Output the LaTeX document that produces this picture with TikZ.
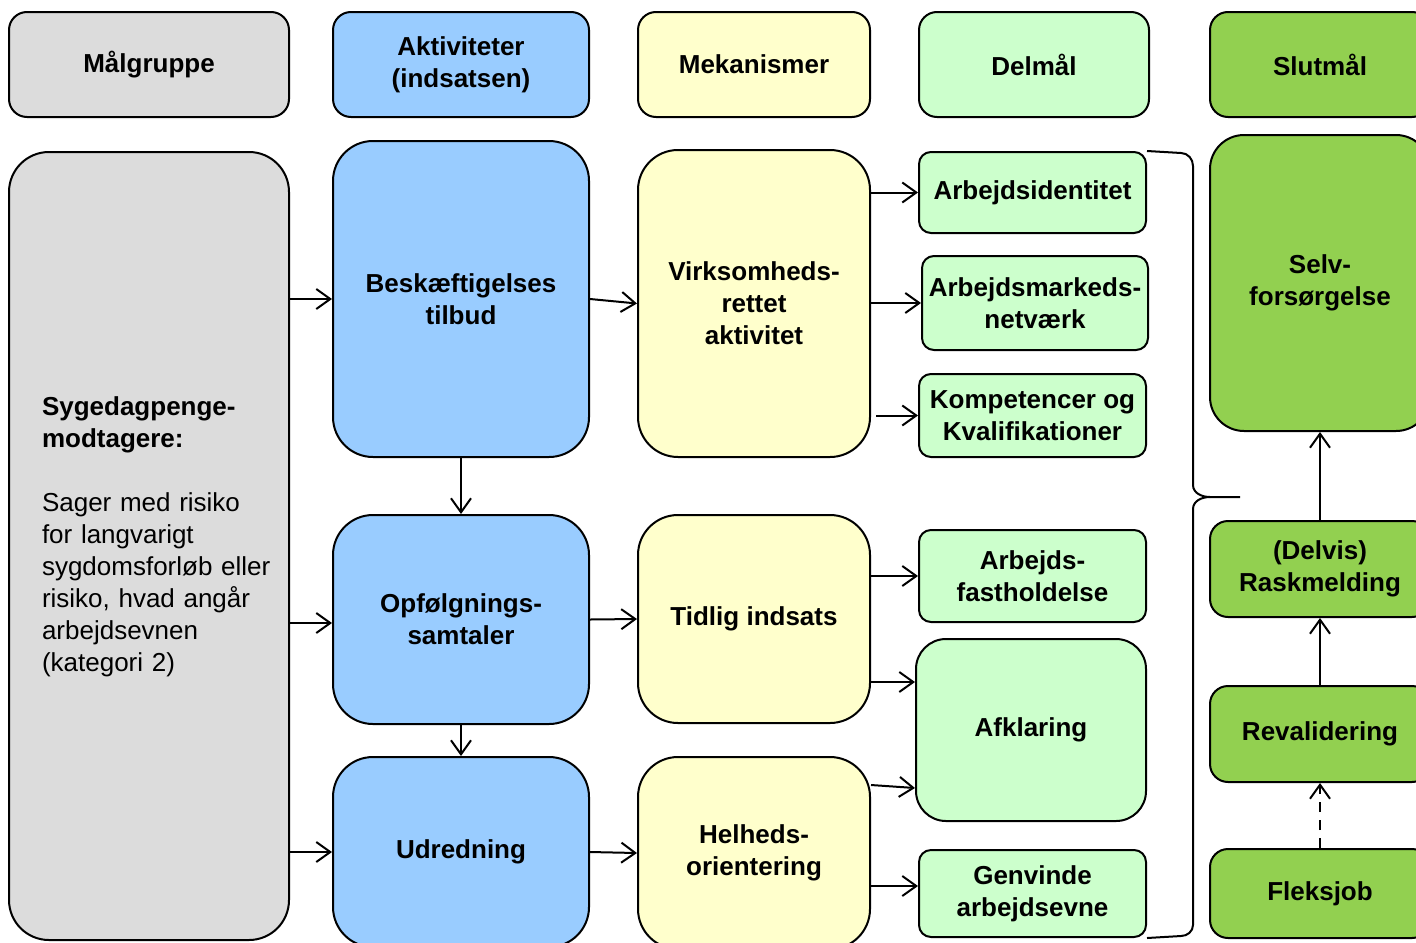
\documentclass[tikz,border=0pt]{standalone}
\usepackage{fontspec}
\setmainfont{Liberation Sans}
\usetikzlibrary{arrows.meta,positioning}
\definecolor{maalgrey}{HTML}{DCDCDC}
\definecolor{aktblue}{HTML}{99CCFF}
\definecolor{mekyellow}{HTML}{FFFFCC}
\definecolor{delgreen}{HTML}{CCFFCC}
\definecolor{slutgreen}{HTML}{92D050}
\tikzset{%
	base/.style     = {draw, rectangle, line width=1pt, inner sep=2pt, align=center, font=\fontsize{13}{16}\selectfont\bfseries},
	head/.style     = {base, rounded corners=9pt, minimum height=52.5pt},
	target/.style   = {base, fill=maalgrey},
	activity/.style = {base, fill=aktblue, rounded corners=20pt, minimum width=128pt},
	mechanism/.style= {base, fill=mekyellow, rounded corners=20pt, minimum width=116pt},
	subgoal/.style  = {base, fill=delgreen, rounded corners=6pt},
	goal/.style     = {base, fill=slutgreen, minimum width=110pt},
	arr/.style      = {line width=1pt, -{Straight Barb[length=7pt,width=10pt,line width=1pt]}},
}
\begin{document}
\begin{tikzpicture}[x=0.5pt,y=-0.5pt]
	\useasboundingbox (0,0) rectangle (1416,942);
	\clip (0,0) rectangle (1416,942);
	\fill[white] (0,0) rectangle (1416,942);
	
	% header row
	\node[head, target, minimum width=140pt] (hmaal) at (149,64.5) {Målgruppe};
	\node[head, fill=aktblue, minimum width=128pt] (hakt) at (461,64.5) {Aktiviteter\\(indsatsen)};
	\node[head, fill=mekyellow, minimum width=116pt] (hmek) at (754,64.5) {Mekanismer};
	\node[head, fill=delgreen, minimum width=115pt] (hdel) at (1034,64.5) {Delmål};
	\node[head, fill=slutgreen, minimum width=110pt] (hslut) at (1320,64.5) {Slutmål};
	
	% target group
	\node[target, rounded corners=20pt, minimum width=140pt, minimum height=394pt, text width=107pt, align=left] (syg) at (149,546)
		{Sygedagpenge-\\modtagere:\\[16pt]\mdseries Sager med risiko\\\mdseries for langvarigt\\\mdseries sygdomsforløb~eller\\\mdseries risiko,~hvad~angår\\\mdseries arbejdsevnen\\\mdseries (kategori 2)\\[-4pt]\mbox{}};
	
	% activities
	\node[activity, minimum height=158pt] (besk) at (461,299) {Beskæftigelses\\tilbud};
	\node[activity, minimum height=104.5pt] (opf) at (461,619.5) {Opfølgnings-\\samtaler};
	\node[activity, minimum height=95pt] (udr) at (461,852) {Udredning};
	
	% mechanisms
	\node[mechanism, minimum height=153.5pt] (virk) at (754,303.5) {Virksomheds-\\rettet\\aktivitet};
	\node[mechanism, minimum height=104pt] (tidl) at (754,619) {Tidlig indsats};
	\node[mechanism, minimum height=96pt] (helh) at (754,853) {Helheds-\\orientering};
	
	% sub goals
	\node[subgoal, minimum width=113.5pt, minimum height=40.5pt] (aid) at (1032.5,192.5) {Arbejdsidentitet};
	\node[subgoal, minimum width=113pt, minimum height=47pt] (amn) at (1035,303) {Arbejdsmarkeds-\\netværk};
	\node[subgoal, minimum width=113.5pt, minimum height=41.5pt] (komp) at (1032.5,415.5) {Kompetencer og\\Kvalifikationer};
	\node[subgoal, minimum width=113.5pt, minimum height=46pt] (afast) at (1032.5,576) {Arbejds-\\fastholdelse};
	\node[subgoal, rounded corners=15pt, minimum width=115pt, minimum height=91pt] (afkl) at (1031,730) {Afklaring};
	\node[subgoal, minimum width=113.5pt, minimum height=43.5pt] (genv) at (1032.5,893.5) {Genvinde\\arbejdsevne};
	
	% end goals
	\node[goal, rounded corners=17pt, minimum height=148pt] (selv) at (1320,283) {Selv-\\forsørgelse};
	\node[goal, rounded corners=9pt, minimum height=48pt] (rask) at (1320,569) {(Delvis)\\Raskmelding};
	\node[goal, rounded corners=9pt, minimum height=48pt] (reval) at (1320,734) {Revalidering};
	\node[goal, rounded corners=9pt, minimum height=44.5pt] (fleks) at (1320,893.5) {Fleksjob};
	
	% connectors
	\draw[arr] (syg.east |- besk) -- (besk.west);
	\draw[arr] ([yshift=-1.75pt]syg.east |- opf) -- ([yshift=-1.75pt]opf.west);
	\draw[arr] (syg.east |- udr) -- (udr.west);
	\draw[arr] (besk.east) -- (virk.west);
	\draw[arr] (opf.east) -- (tidl.west);
	\draw[arr] (udr.east) -- (helh.west);
	\draw[arr] (besk.south) -- (opf.north);
	\draw[arr] (opf.south) -- (udr.north);
	\draw[arr] (virk.east |- aid) -- (aid.west);
	\draw[arr] (virk.east |- amn) -- (amn.west);
	\draw[arr, shorten <=2.5pt] (virk.east |- komp) -- (komp.west);
	\draw[arr] (tidl.east |- afast) -- (afast.west);
	\draw[arr] ([yshift=-31.5pt]tidl.east) -- ([yshift=24pt]afkl.west);
	\draw[arr] ([yshift=34pt]helh.east) -- ([yshift=-29pt]afkl.west);
	\draw[arr] ([yshift=-16.5pt]helh.east) -- ([yshift=3.75pt]genv.west);
	\draw[arr] (rask.north) -- (selv.south);
	\draw[arr] (reval.north) -- (rask.south);
	\draw[arr, dashed, dash pattern=on 5pt off 4pt] (fleks.north) -- (reval.south);
	
	% brace
	\draw[line width=1pt] (aid.north east) -- (1181,153) to[out=0,in=90] (1193,166) -- (1193,485)
		to[out=-90,in=180] (1210,497) -- (1240,497);
	\draw[line width=1pt] (1210,497) to[out=180,in=90] (1193,509) -- (1193,925)
		to[out=-90,in=0] (1181,936) -- (genv.south east);
\end{tikzpicture}
\end{document}
